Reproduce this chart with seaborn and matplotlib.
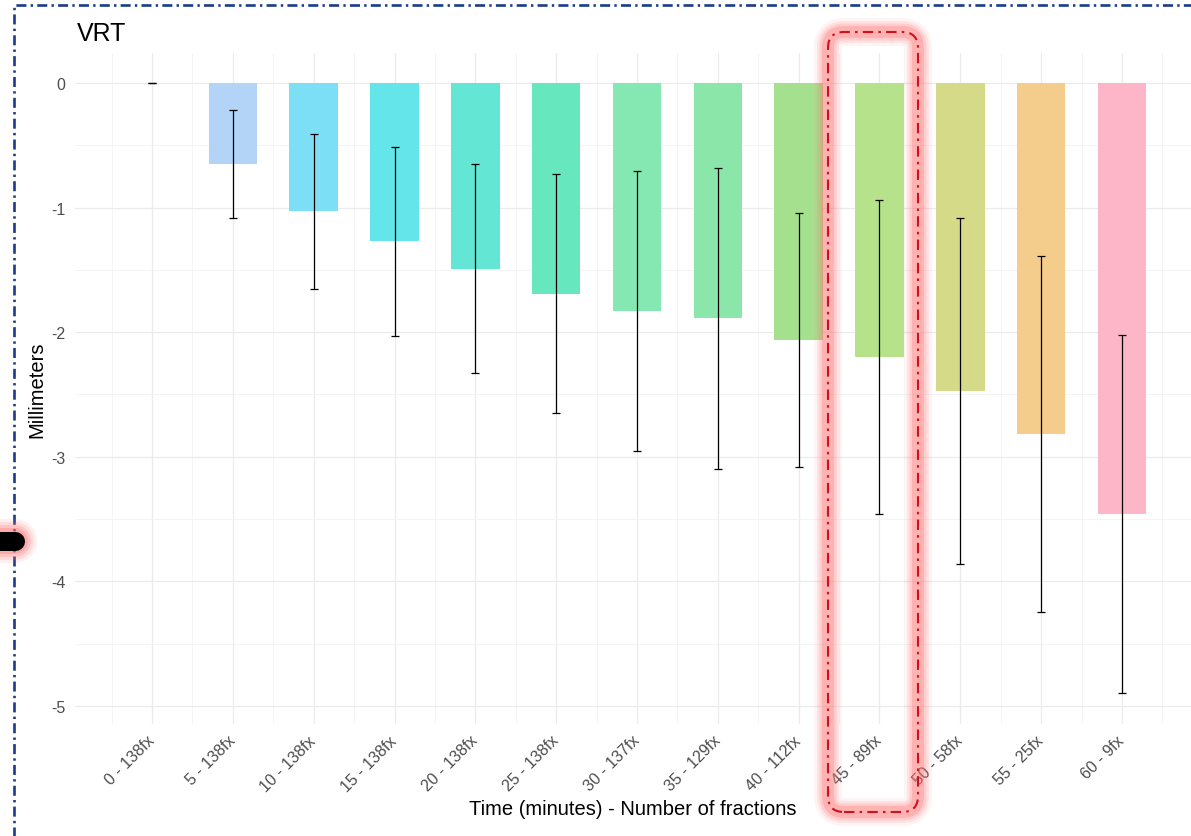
import matplotlib
matplotlib.use("Agg")
import matplotlib.pyplot as plt
import matplotlib.transforms as mtransforms
from matplotlib.lines import Line2D
from matplotlib.patches import FancyBboxPatch
from matplotlib.ticker import MultipleLocator
import seaborn as sns
import numpy as np

# data
labels = ["0 - 138fx", "5 - 138fx", "10 - 138fx", "15 - 138fx", "20 - 138fx",
          "25 - 138fx", "30 - 137fx", "35 - 129fx", "40 - 112fx", "45 - 89fx",
          "50 - 58fx", "55 - 25fx", "60 - 9fx"]
means = [0.0, -0.65, -1.03, -1.27, -1.49, -1.69, -1.83, -1.89, -2.06, -2.20,
         -2.47, -2.82, -3.46]
sds = [0.0, 0.43, 0.62, 0.76, 0.84, 0.96, 1.12, 1.21, 1.02, 1.26, 1.39, 1.43, 1.44]
colors = ["#F8A8A8", "#B3D3F7", "#7DDFF6", "#63E5EA", "#63E6D3", "#66E7BE",
          "#85E8B3", "#8AE6A9", "#A5E08F", "#B5E28A", "#D5DA89", "#F4CD8C",
          "#FDB5C8"]
yticks = [0, -1, -2, -3, -4, -5]

sns.set_theme(style="whitegrid")
plt.rcParams["font.family"] = ["Liberation Sans", "DejaVu Sans"]
plt.rcParams["axes.unicode_minus"] = False

W, H = 1191, 837
fig = plt.figure(figsize=(W / 100, H / 100), dpi=100)
fig.patch.set_facecolor("white")

# panel: x 75..1191 px, y 53.5..725 px
ax = fig.add_axes([75 / W, 1 - 725 / H, (1191 - 75) / W, (725 - 53.5) / H])
ax.set_facecolor("white")

sns.barplot(x=labels, y=means, hue=labels, palette=colors, legend=False,
            width=0.6, saturation=1, ax=ax, linewidth=0)
ax.errorbar(x=np.arange(len(labels)), y=means, yerr=sds, fmt="none",
            ecolor="black", elinewidth=0.9, capsize=2.8, capthick=0.9, zorder=3)

ax.set_xlim(-0.953, 12.854)
ax.set_ylim(-5.145, 0.245)
ax.set_yticks(yticks)
ax.set_yticklabels([str(v) for v in yticks])
ax.xaxis.set_minor_locator(MultipleLocator(0.5))
ax.yaxis.set_minor_locator(MultipleLocator(0.5))
ax.grid(which="major", color="#EBEBEB", linewidth=0.9)
ax.grid(which="minor", color="#F3F3F3", linewidth=0.6)
ax.set_axisbelow(True)
for s in ax.spines.values():
    s.set_visible(False)
ax.tick_params(which="both", length=0)
ax.tick_params(axis="y", labelsize=11.5, labelcolor="#4D4D4D", pad=7)
ax.tick_params(axis="x", labelsize=11.5, labelcolor="#4D4D4D", pad=10)
for t in ax.get_xticklabels():
    t.set_rotation(45)
    t.set_ha("right")
    t.set_va("center")
    t.set_rotation_mode("anchor")

ax.set_xlabel("Time (minutes) - Number of fractions", fontsize=14.5, color="black", labelpad=4)
ax.set_ylabel("Millimeters", fontsize=14.5, color="black", labelpad=3)
fig.text(77 / W, 1 - 41 / H, "VRT", fontsize=18, color="black", ha="left", va="baseline")

# annotation overlays (pixel coordinates, y from top)
px = mtransforms.IdentityTransform()

def P(x, y):
    return x, H - y

# blue dash-dot frame (left and top)
blue = "#1B3B8C"
fig.add_artist(Line2D([14, 14, W + 5], [-5, H - 5.5, H - 5.5], transform=px,
                      color=blue, linewidth=1.9, linestyle=(0, (3.8, 1.6, 0.9, 1.6))))

# red glowing rounded box around the 45 - 89fx bar
x0, y0 = P(828, 813)
x1, y1 = P(918, 33)
for lw, a in [(28, 0.08), (22, 0.12), (17, 0.18), (12, 0.28)]:
    fig.add_artist(FancyBboxPatch((x0, y0), x1 - x0, y1 - y0,
                                  boxstyle="round,pad=0,rounding_size=16",
                                  transform=px, facecolor="none",
                                  edgecolor="#FF6F6F", linewidth=lw * 0.72,
                                  alpha=a))
fig.add_artist(FancyBboxPatch((x0, y0), x1 - x0, y1 - y0,
                              boxstyle="round,pad=0,rounding_size=16",
                              transform=px, facecolor="none",
                              edgecolor="#D0101E", linewidth=1.5,
                              linestyle=(0, (5, 2.5, 1.2, 2.5))))

# black blob with red glow at left edge
bx, by = [-20, 15], [H - 542, H - 542]
for lw, a in [(44, 0.10), (38, 0.15), (32, 0.22), (26, 0.3)]:
    fig.add_artist(Line2D(bx, by, transform=px, color="#FF6F6F",
                          linewidth=lw * 0.72, alpha=a, solid_capstyle="round"))
fig.add_artist(Line2D(bx, by, transform=px, color="black",
                      linewidth=19 * 0.72, solid_capstyle="round"))

fig.savefig("out.png", dpi=100, facecolor="white")
